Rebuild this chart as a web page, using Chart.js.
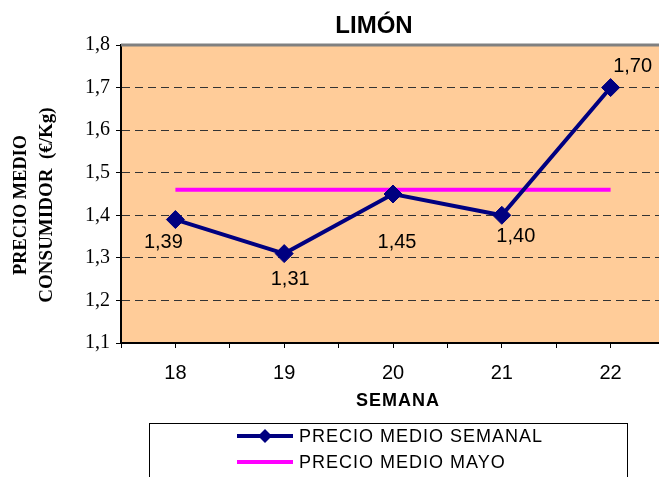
<!DOCTYPE html>
<html>
<head>
<meta charset="utf-8">
<script src="https://cdn.jsdelivr.net/npm/chart.js@4/dist/chart.umd.min.js"></script>
<style>
  html, body { margin: 0; padding: 0; background: #fff; overflow: hidden; }
  canvas { display: block; }
</style>
</head>
<body>
<canvas id="chart" width="665" height="477"></canvas>
<script>
let semanas = ["18", "19", "20", "21", "22"];
let precioSemanal = [1.39, 1.31, 1.45, 1.40, 1.70];
let precioMayo = [1.46, 1.46, 1.46, 1.46, 1.46];
let yTicks = [1.1, 1.2, 1.3, 1.4, 1.5, 1.6, 1.7, 1.8];

// where each value label sits relative to its marker
let labelOffsets = [[-12, 23], [6, 26], [4, 48], [14, 21], [22, -21]];

function coma(v, d) {
    return v.toFixed(d).replace(".", ",");
}

let extras = {
    id: "extras",
    beforeDraw(chart) {
        let ctx = chart.ctx;
        let a = chart.chartArea;
        ctx.save();
        ctx.fillStyle = "#FFCC99";
        ctx.fillRect(a.left, a.top, a.right - a.left, a.bottom - a.top);
        ctx.restore();
    },
    afterDraw(chart) {
        let ctx = chart.ctx;
        let a = chart.chartArea;
        ctx.save();

        // top border of plot area
        ctx.strokeStyle = "#808080";
        ctx.lineWidth = 3;
        ctx.beginPath();
        ctx.moveTo(a.left, a.top);
        ctx.lineTo(a.right, a.top);
        ctx.stroke();

        // value labels
        let meta = chart.getDatasetMeta(0);
        ctx.fillStyle = "#000";
        ctx.font = "20px 'Liberation Sans', Arial, sans-serif";
        ctx.textAlign = "center";
        ctx.textBaseline = "middle";
        meta.data.forEach(function(pt, i) {
            ctx.fillText(coma(precioSemanal[i], 2), pt.x + labelOffsets[i][0], pt.y + labelOffsets[i][1]);
        });

        // title
        ctx.font = "bold 24px 'Liberation Sans', Arial, sans-serif";
        ctx.textBaseline = "alphabetic";
        ctx.fillText("LIMÓN", 374, 33);

        // x axis title
        ctx.letterSpacing = "1px";
        ctx.font = "bold 18px 'Liberation Sans', Arial, sans-serif";
        ctx.textBaseline = "middle";
        ctx.fillText("SEMANA", 398, 401);
        ctx.letterSpacing = "0px";

        // y axis title
        ctx.save();
        ctx.translate(21, 205);
        ctx.rotate(-Math.PI / 2);
        ctx.font = "bold 19px 'Liberation Serif', 'Times New Roman', serif";
        ctx.fillText("PRECIO MEDIO", 0, 0, 140);
        ctx.restore();
        ctx.save();
        ctx.translate(47, 205);
        ctx.rotate(-Math.PI / 2);
        ctx.font = "bold 19px 'Liberation Serif', 'Times New Roman', serif";
        ctx.fillText("CONSUMIDOR  (€/Kg)", 0, 0);
        ctx.restore();

        // legend
        ctx.strokeStyle = "#000";
        ctx.lineWidth = 1;
        ctx.strokeRect(149.5, 423.5, 478, 80);

        ctx.lineWidth = 4;
        ctx.strokeStyle = "#000080";
        ctx.beginPath();
        ctx.moveTo(237, 436);
        ctx.lineTo(293, 436);
        ctx.stroke();
        ctx.fillStyle = "#000080";
        ctx.beginPath();
        ctx.moveTo(265, 429);
        ctx.lineTo(272, 436);
        ctx.lineTo(265, 443);
        ctx.lineTo(258, 436);
        ctx.closePath();
        ctx.fill();

        ctx.strokeStyle = "#FF00FF";
        ctx.beginPath();
        ctx.moveTo(237, 462);
        ctx.lineTo(293, 462);
        ctx.stroke();

        ctx.fillStyle = "#000";
        ctx.letterSpacing = "1px";
        ctx.font = "18px 'Liberation Sans', Arial, sans-serif";
        ctx.textAlign = "left";
        ctx.fillText("PRECIO MEDIO SEMANAL", 299, 437);
        ctx.fillText("PRECIO MEDIO MAYO", 299, 463);
        ctx.letterSpacing = "0px";

        ctx.restore();
    }
};

let ctx = document.getElementById("chart");
new Chart(ctx, {
    type: "line",
    data: {
        labels: semanas,
        datasets: [
            {
                label: "PRECIO MEDIO SEMANAL",
                data: precioSemanal,
                borderColor: "#000080",
                backgroundColor: "#000080",
                borderWidth: 4,
                pointStyle: "rectRot",
                pointRadius: 9,
                pointBorderWidth: 1,
                tension: 0
            },
            {
                label: "PRECIO MEDIO MAYO",
                data: precioMayo,
                borderColor: "#FF00FF",
                borderWidth: 4,
                pointRadius: 0,
                tension: 0
            }
        ]
    },
    options: {
        responsive: false,
        animation: false,
        layout: { autoPadding: false, padding: { top: 45, left: 0, right: 0, bottom: 0 } },
        plugins: {
            legend: { display: false },
            title: { display: false },
            tooltip: { enabled: false }
        },
        scales: {
            x: {
                offset: true,
                weight: 1,
                grid: {
                    offset: true,
                    drawOnChartArea: false,
                    tickLength: 5,
                    tickColor: "#000"
                },
                border: { color: "#000", width: 2 },
                ticks: {
                    color: "#000",
                    padding: 13,
                    font: { family: "'Liberation Sans', Arial, sans-serif", size: 20 }
                },
                afterFit(scale) {
                    scale.height = 134;
                    scale.paddingLeft = 0;
                    scale.paddingRight = 0;
                }
            },
            x2: {
                type: "category",
                labels: semanas,
                position: "bottom",
                offset: true,
                weight: 0,
                grid: {
                    offset: false,
                    drawOnChartArea: false,
                    tickLength: 5,
                    tickColor: "#000"
                },
                border: { display: false },
                ticks: { display: false },
                afterFit(scale) {
                    scale.height = 0;
                    scale.paddingLeft = 0;
                    scale.paddingRight = 0;
                }
            },
            y: {
                min: 1.1,
                max: 1.8,
                afterBuildTicks(scale) {
                    scale.ticks = yTicks.map(function(v) { return { value: v }; });
                },
                grid: {
                    color(c) {
                        let v = c.tick ? c.tick.value : 0;
                        if (Math.abs(v - 1.1) < 0.001 || Math.abs(v - 1.8) < 0.001) return "rgba(0,0,0,0)";
                        return "#333";
                    },
                    lineWidth: 1,
                    tickLength: 5,
                    tickColor: "#000",
                    tickBorderDash: []
                },
                border: { color: "#000", width: 2, dash: [8, 5] },
                ticks: {
                    color: "#000",
                    padding: 6,
                    font: { family: "'Liberation Serif', 'Times New Roman', serif", size: 20 },
                    callback(v) { return coma(v, 1); }
                },
                afterFit(scale) { scale.width = 121; }
            }
        }
    },
    plugins: [extras]
});
</script>
</body>
</html>
